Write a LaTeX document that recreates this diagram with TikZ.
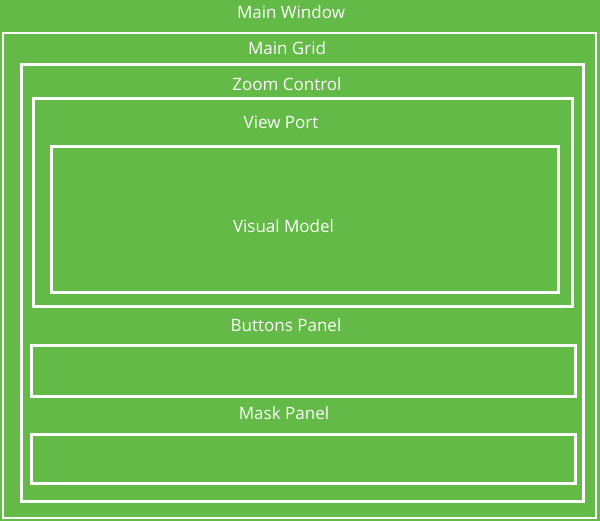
\documentclass[tikz,border=0pt]{standalone}
\usepackage{fontspec}
\setmainfont{Open Sans}
\definecolor{bggreen}{HTML}{63BA46}
\begin{document}
\begin{tikzpicture}[x=1pt,y=-1pt,
  frame/.style={draw=white,line width=3pt},
  thinframe/.style={draw=white,line width=1.5pt},
  lbl/.style={text=white,font=\fontsize{17}{19}\selectfont,inner sep=0pt,anchor=base}]
\fill[bggreen] (0,0) rectangle (600,521);
\useasboundingbox (0,0) rectangle (600,521);
\draw[thinframe] (2.8,33) rectangle (596,518);
\draw[frame] (21,65) rectangle (583.5,501.5);
\draw[frame] (33,99) rectangle (572.5,306.5);
\draw[frame] (51,147) rectangle (558.5,292.7);
\draw[frame] (31,345.5) rectangle (575.5,396.3);
\draw[frame] (31,434) rectangle (575.5,483.7);
\node[lbl] (mainwindow) at (291,19) {Main Window};
\node[lbl] (maingrid) at (287,54.5) {Main Grid};
\node[lbl] (zoomcontrol) at (287,90.5) {Zoom Control};
\node[lbl] (viewport) at (281,128.5) {View Port};
\node[lbl] (visualmodel) at (283.5,232.5) {Visual Model};
\node[lbl] (buttonspanel) at (286,331.5) {Buttons Panel};
\node[lbl] (maskpanel) at (284,419.5) {Mask Panel};
\end{tikzpicture}
\end{document}
